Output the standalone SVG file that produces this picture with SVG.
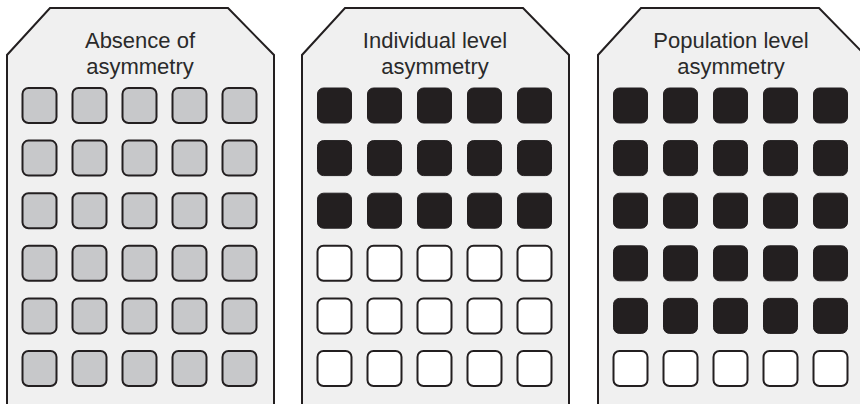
<svg xmlns="http://www.w3.org/2000/svg" width="860" height="404" viewBox="0 0 860 404">
<defs>
<style>
.panel{fill:#f0f0f0;stroke:#231f20;stroke-width:2}
.lbl{font-family:"Liberation Sans",Arial,sans-serif;font-size:22px;fill:#2a2a2a;text-anchor:middle}
.g{fill:#c7c8ca;stroke:#231f20;stroke-width:2}
.b{fill:#231f20;stroke:#231f20;stroke-width:1}
.w{fill:#ffffff;stroke:#231f20;stroke-width:2}
</style>
</defs>
<g id="panel-absence">
<path class="panel" d="M7,410 V55 L50,8 H228 L274,55 V410"/>
<text class="lbl" x="140" y="47.5">Absence of</text>
<text class="lbl" x="140" y="74">asymmetry</text>
<g class="g">
<rect x="22.5" y="88" width="34" height="35" rx="6"/><rect x="72.5" y="88" width="34" height="35" rx="6"/><rect x="122.5" y="88" width="34" height="35" rx="6"/><rect x="172.5" y="88" width="34" height="35" rx="6"/><rect x="222.5" y="88" width="34" height="35" rx="6"/>
<rect x="22.5" y="140.6" width="34" height="35" rx="6"/><rect x="72.5" y="140.6" width="34" height="35" rx="6"/><rect x="122.5" y="140.6" width="34" height="35" rx="6"/><rect x="172.5" y="140.6" width="34" height="35" rx="6"/><rect x="222.5" y="140.6" width="34" height="35" rx="6"/>
<rect x="22.5" y="193.2" width="34" height="35" rx="6"/><rect x="72.5" y="193.2" width="34" height="35" rx="6"/><rect x="122.5" y="193.2" width="34" height="35" rx="6"/><rect x="172.5" y="193.2" width="34" height="35" rx="6"/><rect x="222.5" y="193.2" width="34" height="35" rx="6"/>
<rect x="22.5" y="245.8" width="34" height="35" rx="6"/><rect x="72.5" y="245.8" width="34" height="35" rx="6"/><rect x="122.5" y="245.8" width="34" height="35" rx="6"/><rect x="172.5" y="245.8" width="34" height="35" rx="6"/><rect x="222.5" y="245.8" width="34" height="35" rx="6"/>
<rect x="22.5" y="298.4" width="34" height="35" rx="6"/><rect x="72.5" y="298.4" width="34" height="35" rx="6"/><rect x="122.5" y="298.4" width="34" height="35" rx="6"/><rect x="172.5" y="298.4" width="34" height="35" rx="6"/><rect x="222.5" y="298.4" width="34" height="35" rx="6"/>
<rect x="22.5" y="351" width="34" height="35" rx="6"/><rect x="72.5" y="351" width="34" height="35" rx="6"/><rect x="122.5" y="351" width="34" height="35" rx="6"/><rect x="172.5" y="351" width="34" height="35" rx="6"/><rect x="222.5" y="351" width="34" height="35" rx="6"/>
</g>
</g>
<g id="panel-individual" transform="translate(295,0)">
<path class="panel" d="M7,410 V55 L50,8 H228 L274,55 V410"/>
<text class="lbl" x="140" y="47.5">Individual level</text>
<text class="lbl" x="140" y="74">asymmetry</text>
<g class="b">
<rect x="22.5" y="88" width="34" height="35" rx="6"/><rect x="72.5" y="88" width="34" height="35" rx="6"/><rect x="122.5" y="88" width="34" height="35" rx="6"/><rect x="172.5" y="88" width="34" height="35" rx="6"/><rect x="222.5" y="88" width="34" height="35" rx="6"/>
<rect x="22.5" y="140.6" width="34" height="35" rx="6"/><rect x="72.5" y="140.6" width="34" height="35" rx="6"/><rect x="122.5" y="140.6" width="34" height="35" rx="6"/><rect x="172.5" y="140.6" width="34" height="35" rx="6"/><rect x="222.5" y="140.6" width="34" height="35" rx="6"/>
<rect x="22.5" y="193.2" width="34" height="35" rx="6"/><rect x="72.5" y="193.2" width="34" height="35" rx="6"/><rect x="122.5" y="193.2" width="34" height="35" rx="6"/><rect x="172.5" y="193.2" width="34" height="35" rx="6"/><rect x="222.5" y="193.2" width="34" height="35" rx="6"/>
</g>
<g class="w">
<rect x="22.5" y="245.8" width="34" height="35" rx="6"/><rect x="72.5" y="245.8" width="34" height="35" rx="6"/><rect x="122.5" y="245.8" width="34" height="35" rx="6"/><rect x="172.5" y="245.8" width="34" height="35" rx="6"/><rect x="222.5" y="245.8" width="34" height="35" rx="6"/>
<rect x="22.5" y="298.4" width="34" height="35" rx="6"/><rect x="72.5" y="298.4" width="34" height="35" rx="6"/><rect x="122.5" y="298.4" width="34" height="35" rx="6"/><rect x="172.5" y="298.4" width="34" height="35" rx="6"/><rect x="222.5" y="298.4" width="34" height="35" rx="6"/>
<rect x="22.5" y="351" width="34" height="35" rx="6"/><rect x="72.5" y="351" width="34" height="35" rx="6"/><rect x="122.5" y="351" width="34" height="35" rx="6"/><rect x="172.5" y="351" width="34" height="35" rx="6"/><rect x="222.5" y="351" width="34" height="35" rx="6"/>
</g>
</g>
<g id="panel-population" transform="translate(591,0)">
<path class="panel" d="M7,410 V55 L50,8 H228 L274,55 V410"/>
<text class="lbl" x="140" y="47.5">Population level</text>
<text class="lbl" x="140" y="74">asymmetry</text>
<g class="b">
<rect x="22.5" y="88" width="34" height="35" rx="6"/><rect x="72.5" y="88" width="34" height="35" rx="6"/><rect x="122.5" y="88" width="34" height="35" rx="6"/><rect x="172.5" y="88" width="34" height="35" rx="6"/><rect x="222.5" y="88" width="34" height="35" rx="6"/>
<rect x="22.5" y="140.6" width="34" height="35" rx="6"/><rect x="72.5" y="140.6" width="34" height="35" rx="6"/><rect x="122.5" y="140.6" width="34" height="35" rx="6"/><rect x="172.5" y="140.6" width="34" height="35" rx="6"/><rect x="222.5" y="140.6" width="34" height="35" rx="6"/>
<rect x="22.5" y="193.2" width="34" height="35" rx="6"/><rect x="72.5" y="193.2" width="34" height="35" rx="6"/><rect x="122.5" y="193.2" width="34" height="35" rx="6"/><rect x="172.5" y="193.2" width="34" height="35" rx="6"/><rect x="222.5" y="193.2" width="34" height="35" rx="6"/>
<rect x="22.5" y="245.8" width="34" height="35" rx="6"/><rect x="72.5" y="245.8" width="34" height="35" rx="6"/><rect x="122.5" y="245.8" width="34" height="35" rx="6"/><rect x="172.5" y="245.8" width="34" height="35" rx="6"/><rect x="222.5" y="245.8" width="34" height="35" rx="6"/>
<rect x="22.5" y="298.4" width="34" height="35" rx="6"/><rect x="72.5" y="298.4" width="34" height="35" rx="6"/><rect x="122.5" y="298.4" width="34" height="35" rx="6"/><rect x="172.5" y="298.4" width="34" height="35" rx="6"/><rect x="222.5" y="298.4" width="34" height="35" rx="6"/>
</g>
<g class="w">
<rect x="22.5" y="351" width="34" height="35" rx="6"/><rect x="72.5" y="351" width="34" height="35" rx="6"/><rect x="122.5" y="351" width="34" height="35" rx="6"/><rect x="172.5" y="351" width="34" height="35" rx="6"/><rect x="222.5" y="351" width="34" height="35" rx="6"/>
</g>
</g>
</svg>
